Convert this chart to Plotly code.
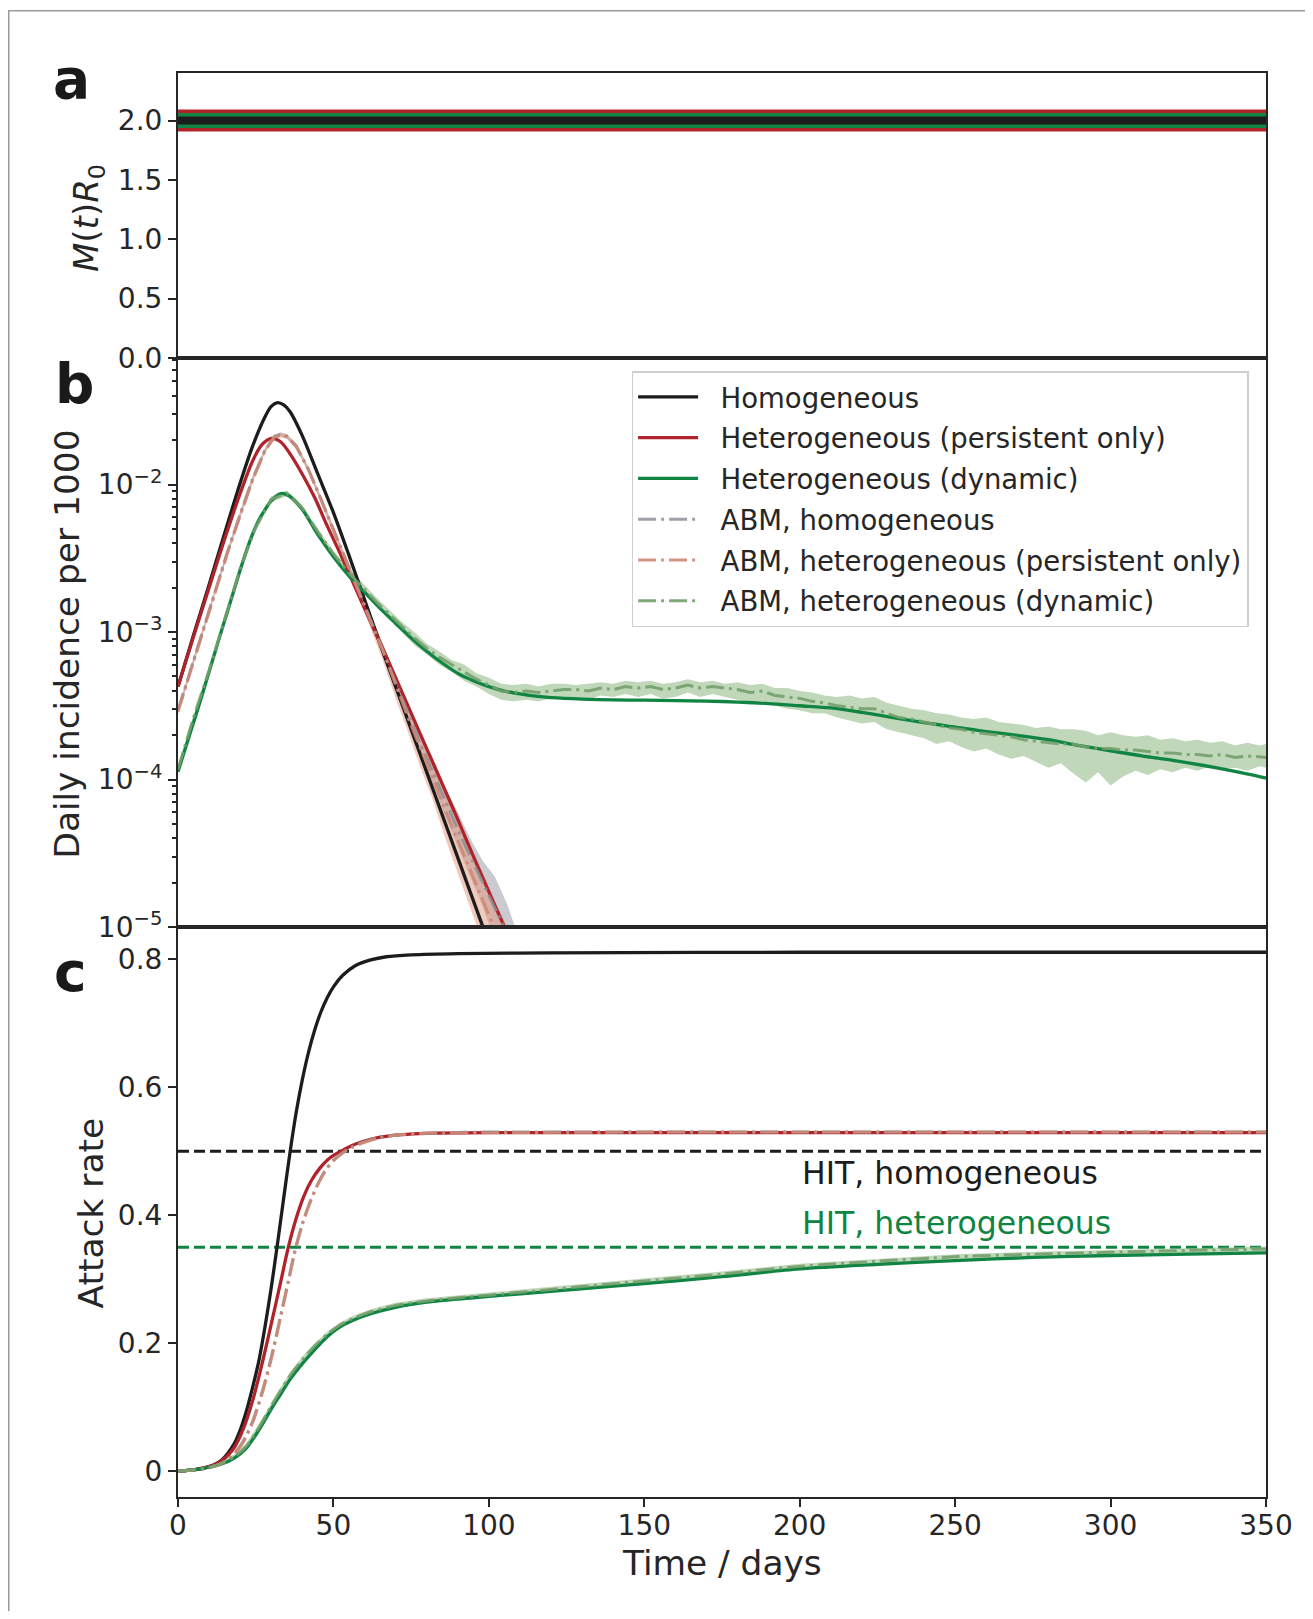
import numpy as np
import plotly.graph_objects as go

# ---------------- data ----------------
# panel a : M(t)R0
t_a = [0, 350]
mr0_hom = [2.0, 2.0]
mr0_per = [2.0, 2.0]
mr0_dyn = [2.0, 2.0]

# panel b : log10 of daily incidence per 1000 (model curves)
t_hom = [0, 5, 10, 15, 20, 24, 28, 30, 32, 34, 36, 40, 45, 50, 55, 60, 65, 70, 75, 80, 85, 90, 95, 100, 105]
log_hom = [-3.37, -3.02, -2.68, -2.33, -1.99, -1.74, -1.54, -1.47, -1.445, -1.46, -1.505, -1.67, -1.93, -2.19,
           -2.48, -2.78, -3.08, -3.37, -3.66, -3.95, -4.24, -4.53, -4.82, -5.11, -5.40]

t_per = [0, 5, 10, 15, 20, 24, 27, 30, 33, 36, 40, 44, 48, 52, 56, 60, 66, 70, 75, 80, 85, 90, 95, 100, 105, 110]
log_per = [-3.37, -3.03, -2.70, -2.37, -2.06, -1.84, -1.73, -1.687, -1.71, -1.79, -1.93, -2.09, -2.28, -2.46,
           -2.65, -2.84, -3.12, -3.31, -3.55, -3.79, -4.03, -4.27, -4.52, -4.76, -5.0, -5.24]

t_dyn = [0, 4, 7, 10, 13, 16, 20, 23, 26, 28, 30, 33, 36, 40, 45, 50, 55, 60, 65, 70, 75, 80, 85, 90, 95, 100,
         105, 110, 115, 120, 130, 140, 150, 160, 170, 180, 190, 200, 210, 220, 230, 240, 250, 260, 270, 280, 290,
         300, 310, 320, 330, 340, 350]
log_dyn = [-3.947, -3.68, -3.48, -3.27, -3.06, -2.855, -2.58, -2.39, -2.24, -2.17, -2.11, -2.061, -2.08, -2.17,
           -2.34, -2.49, -2.62, -2.73, -2.84, -2.94, -3.04, -3.13, -3.21, -3.28, -3.33, -3.37, -3.40, -3.42,
           -3.435, -3.445, -3.455, -3.46, -3.462, -3.465, -3.468, -3.475, -3.485, -3.50, -3.515, -3.545, -3.58,
           -3.615, -3.645, -3.675, -3.70, -3.73, -3.77, -3.805, -3.84, -3.87, -3.905, -3.945, -3.99]

# panel b : ABM, homogeneous (mean and band), log10
t_abm_h = [0, 4, 8, 12, 16, 20, 24, 28, 31, 33, 35, 38, 42, 46, 50, 54, 58, 62, 66, 70, 74, 78, 82, 86, 90, 94,
           98, 102, 106, 110]
log_abm_h = [-3.53, -3.26, -2.99, -2.71, -2.45, -2.20, -1.96, -1.765, -1.675, -1.66, -1.672, -1.738, -1.90, -2.10,
             -2.31, -2.51, -2.71, -2.92, -3.12, -3.34, -3.55, -3.76, -3.95, -4.15, -4.34, -4.52, -4.70, -4.88,
             -5.05, -5.2]
log_abm_h_hi = [-3.51, -3.24, -2.97, -2.69, -2.43, -2.18, -1.94, -1.75, -1.66, -1.645, -1.657, -1.72, -1.88, -2.08,
                -2.29, -2.49, -2.68, -2.88, -3.08, -3.29, -3.49, -3.69, -3.86, -4.06, -4.22, -4.40, -4.55, -4.66,
                -4.85, -5.1]
log_abm_h_lo = [-3.55, -3.28, -3.01, -2.73, -2.47, -2.22, -1.98, -1.78, -1.69, -1.675, -1.687, -1.756, -1.92, -2.12,
                -2.33, -2.53, -2.74, -2.96, -3.16, -3.39, -3.61, -3.83, -4.03, -4.25, -4.46, -4.66, -4.86, -5.1,
                -5.3, -5.45]

# panel b : ABM, heterogeneous (persistent only)
t_abm_p = [0, 4, 8, 12, 16, 20, 24, 28, 31, 33, 35, 38, 42, 46, 50, 54, 58, 62, 66, 70, 74, 78, 82, 86, 90, 94,
           98, 102, 106]
log_abm_p = [-3.54, -3.27, -3.00, -2.72, -2.46, -2.21, -1.97, -1.77, -1.68, -1.664, -1.675, -1.74, -1.90, -2.10,
             -2.31, -2.51, -2.72, -2.93, -3.13, -3.36, -3.58, -3.79, -3.99, -4.21, -4.41, -4.61, -4.81, -5.02, -5.2]
log_abm_p_hi = [-3.52, -3.25, -2.98, -2.70, -2.44, -2.19, -1.95, -1.755, -1.665, -1.65, -1.66, -1.725, -1.885,
                -2.085, -2.29, -2.49, -2.69, -2.89, -3.08, -3.30, -3.51, -3.71, -3.89, -4.09, -4.27, -4.46, -4.63,
                -4.83, -5.0]
log_abm_p_lo = [-3.56, -3.29, -3.02, -2.74, -2.48, -2.23, -1.99, -1.785, -1.695, -1.68, -1.69, -1.755, -1.915,
                -2.115, -2.33, -2.53, -2.76, -2.98, -3.20, -3.45, -3.68, -3.92, -4.14, -4.40, -4.63, -4.87, -5.10,
                -5.30, -5.45]

# panel b : ABM, heterogeneous (dynamic)
t_abm_d = [0, 5, 10, 15, 20, 25, 30, 35, 40, 45, 50, 55, 60,
           64, 68, 72, 76, 80, 84, 88, 92, 96, 100, 104, 108, 112, 116, 120, 124, 128, 132, 136, 140,
           144, 148, 152, 156, 160, 164, 168, 172, 176, 180, 184, 188, 192, 196, 200, 204, 208, 212, 216, 220,
           224, 228, 232, 236, 240, 244, 248, 252, 256, 260, 264, 268, 272, 276, 280, 284, 288, 292, 296, 300,
           304, 308, 312, 316, 320, 324, 328, 332, 336, 340, 344, 348, 350]
log_abm_d = [-3.93, -3.58, -3.26, -2.91, -2.57, -2.29, -2.10, -2.06, -2.16, -2.32, -2.47, -2.60, -2.71,
             -2.80, -2.88, -2.96, -3.04, -3.11, -3.17, -3.22, -3.27, -3.32, -3.36,
             -3.40, -3.41, -3.40, -3.41, -3.40, -3.39, -3.39, -3.40, -3.38, -3.39,
             -3.37, -3.38, -3.37, -3.39, -3.38, -3.36, -3.38, -3.37, -3.38, -3.39,
             -3.41, -3.40, -3.43, -3.44, -3.45, -3.47, -3.48, -3.50, -3.51, -3.52,
             -3.52, -3.55, -3.58, -3.59, -3.61, -3.63, -3.65, -3.66, -3.68, -3.69,
             -3.70, -3.71, -3.73, -3.74, -3.75, -3.76, -3.76, -3.78, -3.79, -3.79,
             -3.80, -3.80, -3.81, -3.82, -3.82, -3.83, -3.83, -3.84, -3.83, -3.85,
             -3.84, -3.85, -3.85]
log_abm_d_hi = [-3.91, -3.56, -3.24, -2.89, -2.55, -2.27, -2.08, -2.04, -2.14, -2.30, -2.45, -2.57, -2.68,
                -2.77, -2.85, -2.93, -3.00, -3.08, -3.13, -3.19, -3.22, -3.28, -3.31,
                -3.35, -3.36, -3.35, -3.37, -3.35, -3.35, -3.36, -3.35, -3.34, -3.35,
                -3.33, -3.34, -3.33, -3.35, -3.34, -3.32, -3.34, -3.33, -3.35, -3.34,
                -3.36, -3.35, -3.38, -3.38, -3.40, -3.41, -3.43, -3.44, -3.43, -3.45,
                -3.44, -3.48, -3.50, -3.52, -3.53, -3.55, -3.56, -3.58, -3.59, -3.58,
                -3.61, -3.62, -3.63, -3.65, -3.64, -3.66, -3.66, -3.67, -3.70, -3.68,
                -3.70, -3.71, -3.70, -3.73, -3.72, -3.74, -3.73, -3.75, -3.74, -3.77,
                -3.75, -3.77, -3.76]
log_abm_d_lo = [-3.95, -3.60, -3.28, -2.93, -2.59, -2.31, -2.12, -2.08, -2.18, -2.34, -2.50, -2.63, -2.74,
                -2.83, -2.92, -3.00, -3.09, -3.15, -3.22, -3.27, -3.33, -3.37, -3.42,
                -3.46, -3.47, -3.46, -3.47, -3.45, -3.44, -3.45, -3.46, -3.43, -3.44,
                -3.42, -3.44, -3.42, -3.45, -3.44, -3.41, -3.44, -3.42, -3.44, -3.46,
                -3.48, -3.47, -3.50, -3.52, -3.53, -3.55, -3.55, -3.58, -3.60, -3.62,
                -3.61, -3.66, -3.68, -3.70, -3.72, -3.76, -3.74, -3.78, -3.81, -3.79,
                -3.83, -3.86, -3.84, -3.88, -3.92, -3.89, -3.96, -4.02, -3.95, -4.04,
                -3.98, -3.94, -3.97, -3.93, -3.95, -3.92, -3.94, -3.91, -3.93, -3.92,
                -3.94, -3.91, -3.92]

# panel c : attack rate
t_c_hom = [0, 5, 10, 14, 18, 20, 22, 24, 26, 28, 30, 32, 34, 36, 38, 40, 42, 44, 46, 48, 50, 53, 57, 62, 67, 75,
           90, 120, 200, 350]
ar_hom = [0, 0.002, 0.007, 0.017, 0.042, 0.064, 0.094, 0.131, 0.172, 0.226, 0.287, 0.355, 0.427, 0.497, 0.56,
          0.612, 0.655, 0.69, 0.718, 0.74, 0.757, 0.775, 0.79, 0.799, 0.804, 0.807, 0.809, 0.81, 0.811, 0.811]

t_c_per = [0, 5, 10, 14, 18, 21, 24, 27, 30, 33, 35.5, 38, 40.5, 43, 45.7, 48, 50.5, 53.2, 56, 60, 65, 72,
           80, 100, 150, 200, 250, 300, 350]
ar_per = [0, 0.002, 0.007, 0.016, 0.036, 0.066, 0.11, 0.167, 0.23, 0.295, 0.35, 0.395, 0.43, 0.455, 0.474, 0.486,
          0.495, 0.502, 0.509, 0.516, 0.522, 0.526, 0.528, 0.529, 0.529, 0.529, 0.529, 0.529, 0.529]

t_c_dyn = [0, 5, 10, 14, 18, 22, 26, 30, 33, 36, 40, 44, 48, 52, 56, 62, 70, 80, 90, 100, 120, 150, 175, 200,
           225, 250, 275, 300, 325, 350]
ar_dyn = [0, 0.002, 0.006, 0.011, 0.02, 0.036, 0.064, 0.097, 0.12, 0.143, 0.168, 0.19, 0.21, 0.225, 0.235, 0.246,
          0.256, 0.264, 0.269, 0.273, 0.281, 0.293, 0.304, 0.316, 0.323, 0.329, 0.334, 0.337, 0.339, 0.341]

t_c_abm_h = [0, 5, 10, 14, 18, 21, 24, 27, 30, 33, 35.5, 37.5, 40, 42.5, 45, 47.5, 50, 53, 56, 60, 65, 72, 80,
             100, 150, 200, 250, 300, 350]
ar_abm_h = [0, 0.0015, 0.005, 0.012, 0.027, 0.047, 0.078, 0.123, 0.178, 0.243, 0.298, 0.343, 0.387, 0.421, 0.449,
            0.471, 0.486, 0.498, 0.507, 0.515, 0.522, 0.526, 0.528, 0.530, 0.530, 0.530, 0.530, 0.530, 0.530]

t_c_abm_p = [0, 5, 10, 14, 18, 21, 24, 27, 30, 33, 35.5, 37.5, 40, 42.5, 45, 47.5, 50, 53, 56, 60, 65, 72, 80,
             100, 150, 200, 250, 300, 350]
ar_abm_p = [0, 0.0015, 0.005, 0.012, 0.026, 0.045, 0.076, 0.12, 0.175, 0.24, 0.295, 0.34, 0.385, 0.42, 0.448,
            0.47, 0.485, 0.497, 0.506, 0.514, 0.521, 0.526, 0.528, 0.529, 0.530, 0.530, 0.530, 0.530, 0.530]

t_c_abm_d = [0, 5, 10, 14, 18, 22, 26, 30, 33, 36, 40, 44, 48, 52, 56, 62, 70, 80, 90, 100, 120, 150, 175, 200,
             225, 250, 275, 300, 325, 350]
ar_abm_d = [0, 0.002, 0.006, 0.012, 0.022, 0.039, 0.068, 0.102, 0.126, 0.149, 0.174, 0.196, 0.214, 0.228, 0.238,
            0.249, 0.259, 0.266, 0.271, 0.275, 0.284, 0.297, 0.308, 0.320, 0.328, 0.335, 0.339, 0.342, 0.345, 0.347]
ar_abm_d_hi = [0, 0.003, 0.008, 0.015, 0.026, 0.044, 0.073, 0.107, 0.131, 0.154, 0.179, 0.200, 0.218, 0.232,
               0.242, 0.253, 0.263, 0.270, 0.275, 0.279, 0.288, 0.301, 0.312, 0.324, 0.332, 0.339, 0.343, 0.346,
               0.349, 0.351]
ar_abm_d_lo = [0, 0.001, 0.004, 0.009, 0.018, 0.034, 0.063, 0.097, 0.121, 0.144, 0.169, 0.192, 0.210, 0.224,
               0.234, 0.245, 0.255, 0.262, 0.267, 0.271, 0.280, 0.293, 0.304, 0.316, 0.324, 0.331, 0.335, 0.338,
               0.341, 0.343]

hit_hom = 0.5
hit_het = 0.35

x_ticks = [0, 50, 100, 150, 200, 250, 300, 350]
legend_names = ["Homogeneous", "Heterogeneous (persistent only)", "Heterogeneous (dynamic)",
                "ABM, homogeneous", "ABM, heterogeneous (persistent only)", "ABM, heterogeneous (dynamic)"]

# ---------------- style ----------------
C_BLACK = "#1c1c1c"
C_RED = "#b0232b"
C_GREEN = "#0f8443"
C_GRAY = "rgba(140,142,148,0.85)"
C_PINK = "rgba(205,135,118,0.9)"
C_GABM = "rgba(115,160,108,0.9)"
F_GRAY = "rgba(165,168,176,0.6)"
F_PINK = "rgba(228,150,125,0.5)"
F_GREEN = "rgba(150,188,140,0.6)"
AX = "#262626"
FONT = "DejaVu Sans"
DASHDOT = "18px,5px,3px,5px"

# page geometry (the page body adds an 8 px offset)
OFF = 8
W, H = 1313 - 2 * OFF, 1619 - 2 * OFF
L, R, T, B = 178, 1266, 73, 1497          # plot area in page pixels
PW, PH = R - L, B - T


def px(v):
    return (v - L) / PW


def py(v):
    return (B - v) / PH


dom_c = [0, py(927)]
dom_b = [py(927), py(358)]
dom_a = [py(358), 1]


def p10(a):
    return list(10 ** np.array(a, dtype=float))


fig = go.Figure()

# panel a
for y, c, w in [(mr0_per, C_RED, 22), (mr0_dyn, C_GREEN, 15), (mr0_hom, C_BLACK, 8)]:
    fig.add_trace(go.Scatter(x=t_a, y=y, mode="lines", line=dict(color=c, width=w),
                             xaxis="x", yaxis="y", showlegend=False, hoverinfo="skip"))


def band(t, hi, lo, color, xa, ya, log=True):
    yy = (p10(hi) + p10(lo)[::-1]) if log else (list(hi) + list(lo)[::-1])
    fig.add_trace(go.Scatter(x=list(t) + list(t)[::-1], y=yy, fill="toself", fillcolor=color,
                             line=dict(width=0), mode="lines", xaxis=xa, yaxis=ya,
                             showlegend=False, hoverinfo="skip"))


# panel b bands
band(t_abm_h, log_abm_h_hi, log_abm_h_lo, F_GRAY, "x2", "y2")
band(t_abm_p, log_abm_p_hi, log_abm_p_lo, F_PINK, "x2", "y2")
band(t_abm_d, log_abm_d_hi, log_abm_d_lo, F_GREEN, "x2", "y2")

PAD = "\u00a0\u00a0"

# panel b model lines
for i, (t, v, c) in enumerate([(t_hom, log_hom, C_BLACK), (t_per, log_per, C_RED), (t_dyn, log_dyn, C_GREEN)]):
    fig.add_trace(go.Scatter(x=t, y=p10(v), mode="lines", name=PAD + legend_names[i],
                             line=dict(color=c, width=3.3, shape="spline", smoothing=0.8),
                             xaxis="x2", yaxis="y2", legendgroup="g%d" % i, legendrank=i + 1))
# panel b ABM lines
for i, (t, v, c) in enumerate([(t_abm_h, log_abm_h, C_GRAY), (t_abm_p, log_abm_p, C_PINK),
                               (t_abm_d, log_abm_d, C_GABM)]):
    fig.add_trace(go.Scatter(x=t, y=p10(v), mode="lines", name=PAD + legend_names[i + 3],
                             line=dict(color=c, width=3, dash=DASHDOT),
                             xaxis="x2", yaxis="y2", legendgroup="g%d" % (i + 3), legendrank=i + 4))

# panel c
fig.add_trace(go.Scatter(x=[0, 350], y=[hit_hom, hit_hom], mode="lines",
                         line=dict(color=C_BLACK, width=3, dash="11px,5px"),
                         xaxis="x3", yaxis="y3", showlegend=False, hoverinfo="skip"))
fig.add_trace(go.Scatter(x=[0, 350], y=[hit_het, hit_het], mode="lines",
                         line=dict(color=C_GREEN, width=3, dash="11px,5px"),
                         xaxis="x3", yaxis="y3", showlegend=False, hoverinfo="skip"))
band(t_c_abm_d, ar_abm_d_hi, ar_abm_d_lo, F_GREEN, "x3", "y3", log=False)
for t, v, c in [(t_c_hom, ar_hom, C_BLACK), (t_c_per, ar_per, C_RED), (t_c_dyn, ar_dyn, C_GREEN)]:
    fig.add_trace(go.Scatter(x=t, y=v, mode="lines", line=dict(color=c, width=3.3, shape="spline", smoothing=0.8),
                             xaxis="x3", yaxis="y3", showlegend=False))
for t, v, c in [(t_c_abm_h, ar_abm_h, C_GRAY), (t_c_abm_p, ar_abm_p, C_PINK), (t_c_abm_d, ar_abm_d, C_GABM)]:
    fig.add_trace(go.Scatter(x=t, y=v, mode="lines", line=dict(color=c, width=3, dash=DASHDOT, shape="spline",
                                                               smoothing=0.8),
                             xaxis="x3", yaxis="y3", showlegend=False))

common = dict(showline=True, linecolor=AX, linewidth=2, mirror=True, showgrid=False, zeroline=False,
              tickfont=dict(family=FONT, size=28, color=AX), ticklen=8, tickwidth=2, tickcolor=AX)

minor_vals = [m * 10.0 ** k for k in (-5, -4, -3) for m in range(2, 10)] + [0.02, 0.03, 0.04, 0.05, 0.06, 0.07]

fig.update_layout(
    width=W, height=H,
    margin=dict(l=L - OFF, r=W - (R - OFF), t=T - OFF, b=H - (B - OFF)),
    paper_bgcolor="white", plot_bgcolor="white",
    font=dict(family=FONT, color=AX),
    xaxis=dict(domain=[0, 1], range=[0, 350], anchor="y", showticklabels=False, ticks="", **common),
    yaxis=dict(domain=dom_a, range=[0, 2.4], anchor="x", ticks="outside", tickmode="array",
               tickvals=[0, 0.5, 1, 1.5, 2], ticktext=["0.0", "0.5", "1.0", "1.5", "2.0"], **common),
    xaxis2=dict(domain=[0, 1], range=[0, 350], anchor="y2", showticklabels=False, ticks="", **common),
    yaxis2=dict(domain=dom_b, type="log", range=[-5, -1.142], anchor="x2", ticks="outside", tickmode="array",
                tickvals=[1e-5, 1e-4, 1e-3, 1e-2],
                ticktext=["10<sup>\u22125</sup>", "10<sup>\u22124</sup>", "10<sup>\u22123</sup>",
                          "10<sup>\u22122</sup>"],
                minor=dict(ticks="outside", ticklen=4.5, tickwidth=1.5, tickcolor=AX, tickmode="array",
                           tickvals=minor_vals, showgrid=False),
                **common),
    xaxis3=dict(domain=[0, 1], range=[0, 350], anchor="y3", ticks="outside", tickmode="array",
                tickvals=x_ticks, ticktext=[str(v) for v in x_ticks], ticklabelstandoff=-6, **common),
    yaxis3=dict(domain=dom_c, range=[-0.0405, 0.8505], anchor="x3", ticks="outside", tickmode="array",
                tickvals=[0, 0.2, 0.4, 0.6, 0.8], ticktext=["0", "0.2", "0.4", "0.6", "0.8"], **common),
    legend=dict(x=px(631.6), y=py(371), xanchor="left", yanchor="top",
                bgcolor="rgba(255,255,255,0.85)", bordercolor="#cfcfcf", borderwidth=1.5,
                font=dict(family=FONT, size=27.5, color=AX), tracegroupgap=2, itemwidth=60),
    showlegend=True,
)

ann = []
# y-axis titles
ann.append(dict(x=px(89), y=py(218), xref="paper", yref="paper", textangle=-90, showarrow=False,
                text="<i>M</i>(<i>t</i>)<i>R</i><sub>0</sub>", font=dict(family=FONT, size=34, color=AX),
                xanchor="center", yanchor="middle"))
ann.append(dict(x=px(66.6), y=py(644), xref="paper", yref="paper", textangle=-90, showarrow=False,
                text="Daily incidence per 1000", font=dict(family=FONT, size=34.4, color=AX),
                xanchor="center", yanchor="middle"))
ann.append(dict(x=px(90.9), y=py(1212.5), xref="paper", yref="paper", textangle=-90, showarrow=False,
                text="Attack rate", font=dict(family=FONT, size=34.4, color=AX),
                xanchor="center", yanchor="middle"))
ann.append(dict(x=0.5, y=py(1563), xref="paper", yref="paper", showarrow=False,
                text="Time / days", font=dict(family=FONT, size=34.4, color=AX),
                xanchor="center", yanchor="middle"))
# panel letters
for letter, cx, cy in [("a", 71.5, 79.3), ("b", 74, 384), ("c", 70, 972)]:
    ann.append(dict(x=px(cx), y=py(cy), xref="paper", yref="paper", showarrow=False,
                    text="<b>%s</b>" % letter, font=dict(family=FONT, size=55, color="#1a1a1a"),
                    xanchor="center", yanchor="middle"))
# HIT labels
ann.append(dict(x=200, y=0.4667, xref="x3", yref="y3", showarrow=False, text="HIT, homogeneous",
                font=dict(family=FONT, size=31.5, color=C_BLACK), xanchor="left", yanchor="middle"))
ann.append(dict(x=200, y=0.3875, xref="x3", yref="y3", showarrow=False, text="HIT, heterogeneous",
                font=dict(family=FONT, size=31.5, color=C_GREEN), xanchor="left", yanchor="middle"))
fig.update_layout(annotations=ann)

# outer figure frame (light grey), left and top edges visible
fig.add_shape(type="rect", xref="paper", yref="paper", x0=px(8.75), y0=py(10.75), x1=px(1400), y1=py(1700),
              line=dict(color="#9a9a9a", width=1.5), fillcolor="rgba(0,0,0,0)", layer="below")

fig.write_html("out.html")
